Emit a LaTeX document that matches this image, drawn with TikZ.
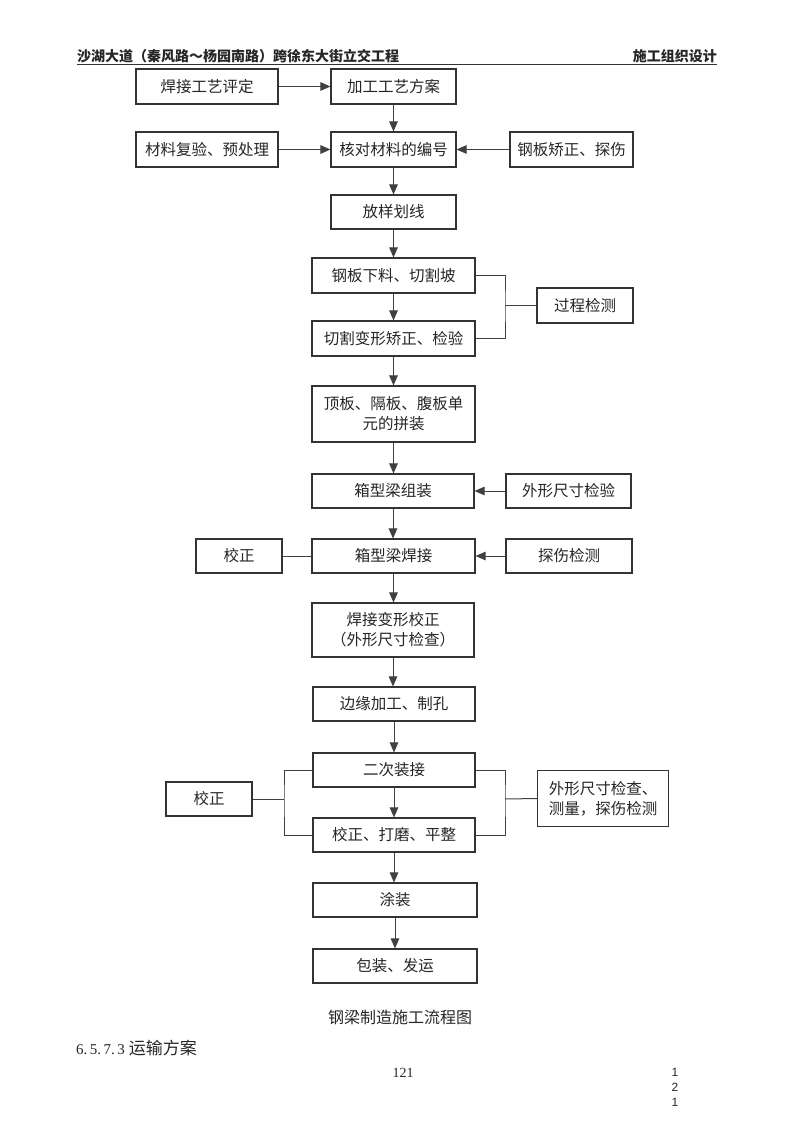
\documentclass[tikz,border=0pt]{standalone}
\usepackage{fontspec}
\newfontfamily\cjk{Noto Sans CJK SC}
\newfontfamily\serifdig{Liberation Serif}
\newfontfamily\sansdig{Liberation Sans}
\usetikzlibrary{arrows.meta}
\begin{document}
\begin{tikzpicture}[x=1pt,y=-1pt,
  box/.style={draw=black!80, line width=1.1pt, fill=white, inner sep=1pt,
    font=\cjk\fontsize{15.5}{20}\selectfont, align=center, text=black!85},
  conn/.style={draw=black!75, line width=1pt},
  arr/.style={conn, -{Triangle[length=10pt,width=8.5pt]}}]
\useasboundingbox[fill=white] (0,0) rectangle (800,1132);

% header
\node[anchor=base west, inner sep=0pt, text=black!85, font=\cjk\bfseries\fontsize{14}{14}\selectfont] (hd) at (77,61.5) {沙湖大道（秦风路～杨园南路）跨徐东大街立交工程};
\node[anchor=base east, inner sep=0pt, text=black!85, font=\cjk\bfseries\fontsize{14}{14}\selectfont] (hd2) at (717,61.5) {施工组织设计};
\draw[line width=0.8pt, black!80] (77,64) -- (717,64);

% boxes
\node[box, minimum width=142pt, minimum height=35pt] (A) at (207,86.5) {焊接工艺评定};
\node[box, minimum width=125pt, minimum height=35pt] (B) at (393.5,86.5) {加工工艺方案};
\node[box, minimum width=142pt, minimum height=35pt] (C) at (207,149.5) {材料复验、预处理};
\node[box, minimum width=125pt, minimum height=35pt] (D) at (393.5,149.5) {核对材料的编号};
\node[box, minimum width=123pt, minimum height=35pt] (E) at (571.5,149.5) {钢板矫正、探伤};
\node[box, minimum width=125pt, minimum height=34pt] (F) at (393.5,212) {放样划线};
\node[box, minimum width=163pt, minimum height=35pt] (G) at (393.5,275.5) {钢板下料、切割坡};
\node[box, minimum width=163pt, minimum height=35pt] (H) at (393.5,338.5) {切割变形矫正、检验};
\node[box, minimum width=96pt, minimum height=35pt] (I) at (585,305.5) {过程检测};
\node[box, minimum width=163pt, minimum height=56pt] (J) at (393.5,414) {顶板、隔板、腹板单\\元的拼装};
\node[box, minimum width=162pt, minimum height=34pt] (K) at (393,491) {箱型梁组装};
\node[box, minimum width=125pt, minimum height=34pt] (L) at (568.5,491) {外形尺寸检验};
\node[box, minimum width=163pt, minimum height=34pt] (M) at (393.5,556) {箱型梁焊接};
\node[box, minimum width=86pt, minimum height=34pt] (N) at (239,556) {校正};
\node[box, minimum width=126pt, minimum height=34pt] (O) at (569,556) {探伤检测};
\node[box, minimum width=162pt, minimum height=54pt] (P) at (393,630) {焊接变形校正\\（外形尺寸检查）};
\node[box, minimum width=162pt, minimum height=34pt] (Q) at (394,704) {边缘加工、制孔};
\node[box, minimum width=162pt, minimum height=34pt] (R) at (394,770) {二次装接};
\node[box, minimum width=162pt, minimum height=34pt] (S) at (394,835) {校正、打磨、平整};
\node[box, minimum width=86pt, minimum height=34pt] (T) at (209,799) {校正};
\node[box, minimum width=131pt, minimum height=56pt] (U) at (603,798.5) {外形尺寸检查、\\测量，探伤检测};
\node[box, minimum width=164pt, minimum height=34pt] (V) at (395,900) {涂装};
\node[box, minimum width=164pt, minimum height=34pt] (W) at (395,966) {包装、发运};

% connectors
\draw[arr] (A.east) -- (B.west);
\draw[arr] (B.south) -- (B.south |- D.north);
\draw[arr] (C.east) -- (D.west);
\draw[arr] (E.west) -- (D.east);
\draw[arr] (D.south) -- (D.south |- F.north);
\draw[arr] (F.south) -- (F.south |- G.north);
\draw[arr] (G.south) -- (G.south |- H.north);
\coordinate (bx1) at (505,305.5);
\draw[conn] (G.east) -| (bx1) |- (H.east);
\draw[conn] (bx1) -- (I.west);
\draw[arr] (H.south) -- (H.south |- J.north);
\draw[arr] (J.south) -- (J.south |- K.north);
\draw[arr] (L.west) -- (K.east);
\draw[arr] (K.south) -- (K.south |- M.north);
\draw[conn] (N.east) -- (M.west);
\draw[arr] (O.west) -- (M.east);
\draw[arr] (M.south) -- (M.south |- P.north);
\draw[arr] (P.south) -- (P.south |- Q.north);
\draw[arr] (Q.south) -- (Q.south |- R.north);
\draw[arr] (R.south) -- (R.south |- S.north);
\coordinate (lb) at (284,799);
\draw[conn] (R.west) -| (lb) |- (S.west);
\draw[conn] (T.east) -- (lb);
\coordinate (rb) at (505,799);
\draw[conn] (R.east) -| (rb) |- (S.east);
\draw[conn] (rb) -- (U.west);
\draw[arr] (S.south) -- (S.south |- V.north);
\draw[arr] (V.south) -- (V.south |- W.north);

% texts below
\node[text=black!85, font=\cjk\fontsize{16}{16}\selectfont] (cap) at (400,1017) {钢梁制造施工流程图};
\node[anchor=west, inner sep=0pt, text=black!85, font=\cjk\fontsize{17}{17}\selectfont] (sec) at (76,1048) {{\serifdig\fontsize{15}{15}\selectfont 6.\,5.\,7.\,3}\hspace{4pt}运输方案};
\node[text=black!85, font=\serifdig\fontsize{14}{14}\selectfont] (pg) at (403,1073) {121};
\node[text=black!85, align=center, font=\sansdig\fontsize{12}{15}\selectfont] (pn) at (675,1087) {1\\2\\1};
\end{tikzpicture}
\end{document}
